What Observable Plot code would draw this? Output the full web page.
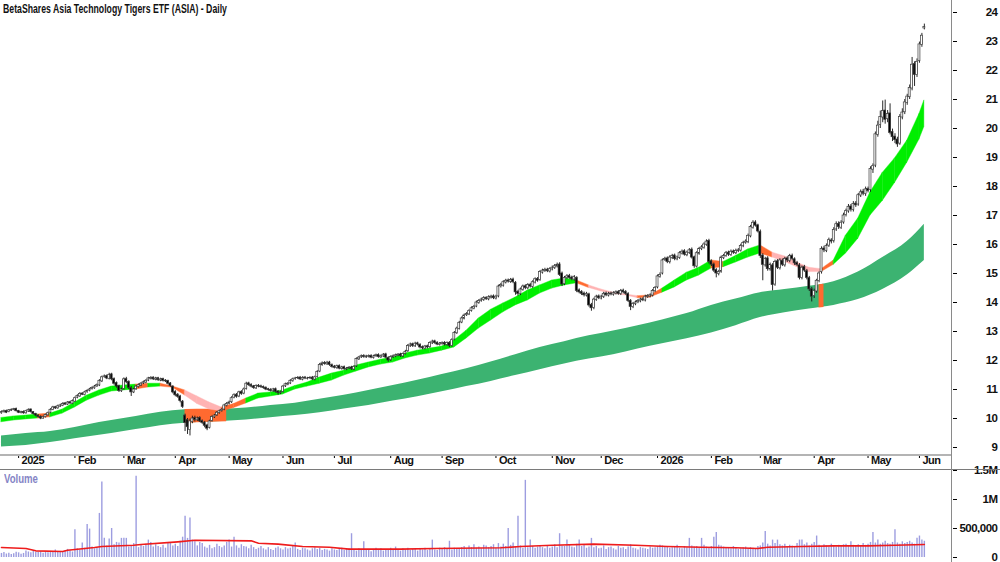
<!DOCTYPE html>
<html><head><meta charset="utf-8">
<script src="https://cdn.jsdelivr.net/npm/d3@7"></script>
<script src="https://cdn.jsdelivr.net/npm/@observablehq/plot@0.6"></script>
<style>
html,body{margin:0;padding:0;background:#fff;}
#wrap{position:relative;width:1000px;height:562px;overflow:hidden;background:#fff;}
#price,#vol{position:absolute;left:0;}
#price{top:0;} #vol{top:470px;}
.lbl{position:absolute;font-family:"Liberation Sans",Arial,sans-serif;font-weight:bold;white-space:nowrap;transform-origin:0 0;}
#title{left:3px;top:1px;font-size:13px;color:#111;transform:scaleX(0.67);}
#vlabel{left:4px;top:472px;font-size:12px;color:#8585c6;transform:scaleX(0.8);}
.line{position:absolute;}
</style></head>
<body><div id="wrap">
<div id="price"></div><div id="vol"></div>
<div class="line" style="left:0;top:454px;width:952px;height:2px;background:#b4b4b4"></div>
<div class="line" style="left:0;top:469px;width:1000px;height:1px;background:#7a7a7a"></div>
<div class="line" style="left:951px;top:0;width:1px;height:562px;background:#8a8a8a"></div>
<div id="title" class="lbl">BetaShares Asia Technology Tigers ETF (ASIA) - Daily</div>
<div id="vlabel" class="lbl">Volume</div>
</div>
<script>
// ---- daily candles (trading-day index 0 = 23 Dec 2024) ----
const open = [
10.18,10.22,10.26,10.22,10.27, 10.30,10.33,10.26,10.19,10.23, 10.18,10.24,10.31,10.22,10.16, 10.10,10.06,10.00,10.05,10.11,
10.20,10.30,10.39,10.35,10.41, 10.44,10.52,10.48,10.56,10.51, 10.58,10.72,10.76,10.86,10.81, 10.91,10.96,11.02,11.04,11.11,
11.14,11.28,11.43,11.46,11.37, 11.52,11.36,11.22,11.12,10.94, 11.02,11.36,11.26,11.06,10.90, 11.01,11.09,11.14,11.21,11.24,
11.31,11.37,11.41,11.34,11.39, 11.31,11.36,11.31,11.29,11.21, 11.10,10.92,10.82,10.76,10.58, 10.10,9.95,9.60,9.88,10.02,
9.94,10.02,9.91,9.86,9.76, 9.68,9.92,10.04,10.11,10.19, 10.26,10.31,10.44,10.51,10.56, 10.72,10.82,10.76,10.92,10.86,
11.02,11.21,11.16,11.11,11.04, 11.13,11.11,11.09,11.06,11.01, 10.99,10.94,11.01,10.93,10.87, 10.92,11.11,11.17,11.21,11.29,
11.36,11.39,11.41,11.34,11.41, 11.37,11.39,11.41,11.34,11.43, 11.62,11.84,11.91,11.87,11.93, 11.84,11.79,11.74,11.81,11.71,
11.77,11.69,11.73,11.76,11.69, 11.80,12.04,12.11,12.16,12.11, 12.13,12.16,12.09,12.15,12.19, 12.11,12.14,12.21,12.09,12.01,
12.11,12.14,12.17,12.21,12.14, 12.23,12.32,12.49,12.56,12.49, 12.59,12.54,12.46,12.41,12.49, 12.46,12.59,12.66,12.61,12.54,
12.57,12.61,12.54,12.61,12.50, 12.72,12.94,13.09,13.31,13.44, 13.56,13.59,13.71,13.79,13.86, 13.99,14.06,14.09,14.16,14.11,
14.17,14.21,14.14,14.21,14.56, 14.58,14.69,14.76,14.71,14.79, 14.68,14.37,14.29,14.44,14.56, 14.49,14.61,14.54,14.69,14.81,
14.78,15.03,15.09,15.13,15.07, 15.14,15.19,15.24,15.31,15.00, 14.63,14.84,14.92,14.86,14.79, 14.85,14.42,14.36,14.31,14.24,
14.28,13.92,13.81,14.09,14.21, 14.14,14.19,14.31,14.24,14.31, 14.27,14.31,14.36,14.29,14.41, 14.36,14.29,14.06,13.84,13.94,
14.01,14.04,14.11,14.07,14.19, 14.21,14.24,14.39,14.52,14.89, 15.00,15.47,15.52,15.39,15.54, 15.62,15.49,15.54,15.69,15.77,
15.63,15.71,15.82,15.56,15.24, 15.68,15.84,15.89,15.99,16.12, 15.42,15.31,15.12,14.98,15.06, 15.53,15.61,15.72,15.64,15.76,
15.70,15.77,15.79,15.94,16.06, 16.08,16.28,16.58,16.76,16.66, 16.44,15.62,15.28,15.52,15.14, 15.28,14.62,15.42,15.18,15.44,
15.28,15.52,15.43,15.61,15.49, 15.36,15.28,14.84,15.22,15.08, 14.84,14.46,14.22,14.38,14.74, 15.05,15.86,15.78,15.96,16.14,
16.12,16.52,16.71,16.58,16.76, 17.02,17.14,17.31,17.19,17.41, 17.38,17.69,17.82,17.74,17.91, 17.88,18.58,18.72,19.78,20.12,
20.38,20.62,20.32,20.52,19.88, 19.72,19.62,19.48,20.38,20.56, 20.88,21.08,21.38,22.22,21.84, 22.32,22.88,23.45];
const high = [
10.26,10.29,10.29,10.31,10.33, 10.35,10.36,10.28,10.25,10.26, 10.28,10.33,10.33,10.24,10.18, 10.13,10.09,10.08,10.15,10.22,
10.34,10.42,10.42,10.46,10.49, 10.54,10.55,10.58,10.59,10.64, 10.74,10.82,10.89,10.89,10.94, 10.99,11.04,11.09,11.14,11.19,
11.34,11.46,11.50,11.50,11.56, 11.56,11.40,11.26,11.15,11.05, 11.40,11.42,11.30,11.10,11.04, 11.14,11.19,11.24,11.29,11.34,
11.42,11.44,11.44,11.42,11.42, 11.39,11.39,11.34,11.32,11.24, 11.13,10.96,10.86,10.80,10.62, 10.15,10.00,9.98,10.08,10.08,
10.05,10.06,9.95,9.90,9.80, 9.94,10.09,10.14,10.24,10.29, 10.34,10.49,10.55,10.60,10.75, 10.85,10.86,10.94,10.96,11.05,
11.25,11.25,11.20,11.14,11.16, 11.17,11.15,11.12,11.09,11.04, 11.03,11.04,11.05,10.96,10.94, 11.14,11.22,11.24,11.34,11.39,
11.42,11.44,11.45,11.44,11.45, 11.42,11.44,11.45,11.46,11.65, 11.90,11.95,11.96,11.97,11.97, 11.88,11.83,11.84,11.85,11.80,
11.81,11.76,11.79,11.80,11.82, 12.09,12.14,12.19,12.20,12.18, 12.19,12.20,12.18,12.22,12.23, 12.19,12.24,12.25,12.13,12.16,
12.19,12.22,12.24,12.25,12.26, 12.35,12.55,12.60,12.60,12.63, 12.63,12.58,12.50,12.52,12.53, 12.64,12.70,12.70,12.65,12.62,
12.64,12.65,12.64,12.65,12.75, 13.00,13.15,13.35,13.50,13.60, 13.65,13.75,13.85,13.90,14.05, 14.10,14.15,14.20,14.20,14.23,
14.25,14.26,14.25,14.60,14.66, 14.75,14.80,14.81,14.83,14.84, 14.72,14.42,14.50,14.60,14.61, 14.65,14.66,14.75,14.85,14.86,
15.10,15.15,15.18,15.18,15.20, 15.26,15.31,15.36,15.37,15.05, 14.90,14.96,14.97,14.91,14.93, 14.89,14.47,14.41,14.36,14.35,
14.32,13.97,14.15,14.25,14.26, 14.25,14.35,14.36,14.35,14.36, 14.37,14.40,14.41,14.45,14.46, 14.41,14.34,14.10,14.00,14.05,
14.10,14.15,14.16,14.25,14.27, 14.30,14.45,14.55,14.95,15.02, 15.50,15.56,15.57,15.61,15.66, 15.67,15.60,15.75,15.81,15.82,
15.77,15.86,15.88,15.60,15.75, 15.90,15.96,16.06,16.16,16.18, 15.47,15.36,15.17,15.11,15.60, 15.66,15.76,15.77,15.81,15.81,
15.84,15.86,16.01,16.11,16.16, 16.36,16.66,16.82,16.82,16.70, 16.50,15.68,15.56,15.58,15.36, 15.34,15.46,15.48,15.51,15.50,
15.56,15.58,15.66,15.67,15.54, 15.42,15.34,15.26,15.28,15.14, 14.90,14.52,14.46,14.80,15.06, 15.92,15.94,16.02,16.22,16.20,
16.58,16.78,16.78,16.82,17.08, 17.22,17.38,17.38,17.48,17.48, 17.76,17.88,17.90,17.98,17.98, 18.68,18.78,19.88,20.25,20.60,
20.95,20.98,20.62,20.85,19.98, 19.82,19.70,20.48,20.68,21.00, 21.18,21.50,22.45,22.30,22.40, 22.98,23.28,23.60];
const low = [
10.15,10.19,10.17,10.20,10.24, 10.27,10.23,10.17,10.16,10.15, 10.15,10.21,10.19,10.12,10.06, 10.02,9.96,9.97,10.02,10.08,
10.17,10.27,10.31,10.32,10.38, 10.41,10.45,10.45,10.49,10.48, 10.55,10.68,10.73,10.79,10.78, 10.87,10.92,10.98,11.01,11.07,
11.10,11.24,11.39,11.34,11.33, 11.30,11.15,11.05,10.90,10.90, 10.98,11.20,11.00,10.76,10.86, 10.97,11.05,11.10,11.17,11.20,
11.27,11.33,11.31,11.30,11.28, 11.27,11.26,11.24,11.16,11.08, 10.85,10.75,10.70,10.54,10.35, 9.55,9.45,9.40,9.82,9.88,
9.90,9.86,9.80,9.68,9.58, 9.64,9.88,10.00,10.07,10.15, 10.22,10.27,10.40,10.47,10.52, 10.68,10.70,10.72,10.80,10.82,
10.98,11.11,11.06,11.01,11.00, 11.06,11.04,11.01,10.96,10.94, 10.91,10.90,10.88,10.80,10.83, 10.88,11.07,11.13,11.17,11.25,
11.32,11.35,11.31,11.30,11.34, 11.33,11.35,11.31,11.30,11.39, 11.58,11.80,11.84,11.83,11.80, 11.74,11.71,11.70,11.68,11.67,
11.66,11.65,11.69,11.66,11.65, 11.76,12.00,12.07,12.08,12.07, 12.09,12.06,12.05,12.11,12.08, 12.07,12.10,12.06,11.94,11.97,
12.07,12.10,12.13,12.11,12.10, 12.19,12.28,12.45,12.45,12.45, 12.50,12.40,12.37,12.37,12.40, 12.42,12.55,12.56,12.51,12.50,
12.53,12.50,12.50,12.45,12.46, 12.68,12.90,13.05,13.27,13.40, 13.52,13.55,13.67,13.75,13.82, 13.94,14.01,14.04,14.07,14.06,
14.12,14.10,14.09,14.16,14.50, 14.53,14.64,14.67,14.66,14.65, 14.25,14.22,14.24,14.39,14.44, 14.44,14.50,14.49,14.64,14.70,
14.73,14.98,15.04,15.03,15.02, 15.09,15.14,15.19,14.90,14.55, 14.58,14.79,14.80,14.75,14.74, 14.34,14.30,14.24,14.19,14.19,
13.84,13.70,13.75,14.04,14.10, 14.09,14.14,14.20,14.19,14.23, 14.22,14.26,14.25,14.24,14.30, 14.25,14.00,13.72,13.79,13.89,
13.96,13.99,14.03,14.02,14.14, 14.16,14.19,14.34,14.47,14.84, 14.95,15.42,15.34,15.33,15.48, 15.44,15.44,15.49,15.64,15.60,
15.58,15.66,15.50,15.18,15.19, 15.63,15.79,15.84,15.94,15.33, 15.24,15.04,14.85,14.92,15.01, 15.48,15.56,15.59,15.59,15.66,
15.65,15.72,15.74,15.89,16.01, 16.03,16.23,16.53,16.60,16.40, 15.52,14.75,15.22,15.08,15.08, 14.40,14.56,15.14,15.12,15.24,
15.22,15.38,15.37,15.44,15.28, 15.24,14.78,14.78,15.04,14.78, 14.38,14.02,14.14,14.32,14.68, 14.98,15.72,15.72,15.90,16.02,
16.05,16.45,16.52,16.52,16.70, 16.95,17.08,17.12,17.12,17.28, 17.32,17.62,17.68,17.66,17.78, 17.80,18.45,18.65,19.70,20.00,
20.20,20.15,20.20,19.78,19.55, 19.48,19.35,19.42,20.30,20.48, 20.80,21.00,21.30,21.45,21.76, 22.25,22.80,23.40];
const close = [
10.22,10.25,10.20,10.28,10.30, 10.32,10.25,10.20,10.22,10.18, 10.25,10.30,10.22,10.15,10.10, 10.05,10.00,10.05,10.12,10.18,
10.30,10.38,10.35,10.42,10.45, 10.50,10.48,10.55,10.52,10.60, 10.70,10.78,10.85,10.82,10.90, 10.95,11.00,11.05,11.10,11.15,
11.30,11.42,11.45,11.38,11.50, 11.35,11.20,11.10,10.95,11.00, 11.35,11.25,11.05,10.90,11.00, 11.10,11.15,11.20,11.25,11.30,
11.38,11.40,11.35,11.38,11.32, 11.35,11.30,11.28,11.20,11.12, 10.90,10.80,10.75,10.60,10.40, 9.85,9.70,9.90,10.00,9.95,
10.00,9.90,9.85,9.75,9.65, 9.90,10.05,10.10,10.20,10.25, 10.30,10.45,10.50,10.55,10.70, 10.80,10.75,10.90,10.85,11.00,
11.20,11.15,11.10,11.05,11.12, 11.10,11.08,11.05,11.00,10.98, 10.95,11.00,10.92,10.88,10.90, 11.10,11.18,11.20,11.30,11.35,
11.38,11.40,11.35,11.40,11.38, 11.38,11.40,11.35,11.42,11.60, 11.85,11.90,11.88,11.92,11.85, 11.78,11.75,11.80,11.72,11.76,
11.70,11.72,11.75,11.70,11.78, 12.05,12.10,12.15,12.12,12.14, 12.15,12.10,12.14,12.18,12.12, 12.15,12.20,12.10,12.00,12.12,
12.15,12.18,12.20,12.15,12.22, 12.30,12.50,12.55,12.50,12.58, 12.55,12.45,12.42,12.48,12.45, 12.60,12.65,12.60,12.55,12.58,
12.60,12.55,12.60,12.50,12.70, 12.95,13.10,13.30,13.45,13.55, 13.60,13.70,13.80,13.85,14.00, 14.05,14.10,14.15,14.12,14.18,
14.20,14.15,14.20,14.55,14.60, 14.70,14.75,14.72,14.78,14.70, 14.35,14.30,14.45,14.55,14.50, 14.60,14.55,14.70,14.80,14.75,
15.05,15.10,15.12,15.08,15.15, 15.20,15.25,15.30,14.95,14.62, 14.85,14.90,14.85,14.80,14.88, 14.40,14.35,14.30,14.25,14.30,
13.90,13.80,14.10,14.20,14.15, 14.20,14.30,14.25,14.30,14.28, 14.32,14.35,14.30,14.40,14.35, 14.30,14.05,13.85,13.95,14.00,
14.05,14.10,14.08,14.20,14.22, 14.25,14.40,14.50,14.90,14.95, 15.45,15.50,15.40,15.55,15.60, 15.50,15.55,15.70,15.75,15.65,
15.72,15.80,15.55,15.25,15.70, 15.85,15.90,16.00,16.10,15.40, 15.30,15.10,15.00,15.05,15.55, 15.60,15.70,15.65,15.75,15.72,
15.78,15.80,15.95,16.05,16.10, 16.30,16.60,16.75,16.65,16.45, 15.60,15.30,15.50,15.15,15.30, 14.60,15.40,15.20,15.45,15.30,
15.50,15.45,15.60,15.50,15.35, 15.30,14.85,15.20,15.10,14.85, 14.45,14.20,14.40,14.75,15.00, 15.85,15.80,15.95,16.15,16.10,
16.50,16.70,16.60,16.75,17.00, 17.15,17.30,17.20,17.40,17.35, 17.70,17.80,17.75,17.90,17.85, 18.60,18.70,19.80,20.10,20.40,
20.60,20.30,20.50,19.85,19.70, 19.60,19.45,20.40,20.55,20.90, 21.10,21.40,22.20,21.85,22.30, 22.90,23.20,23.50];
// daily volume, thousands of units
const volumeK = [
70,85,60,75,50, 65,90,80,55,70, 110,95,80,120,90, 85,100,75,95,80,
105,90,130,85,100, 95,120,140,110,95, 480,150,130,250,160, 570,490,180,150,170,
760,1300,330,200,320, 500,220,260,250,330, 330,330,180,200,240, 1400,170,210,190,230,
300,260,180,220,190, 170,210,160,240,250, 200,230,190,280,350, 710,330,680,300,270,
200,260,240,180,160, 210,150,170,230,190, 170,200,260,300,180, 350,200,160,220,190,
180,150,210,170,140, 160,190,150,130,170, 140,120,160,180,150, 130,170,145,160,190,
250,140,120,160,150, 130,110,150,170,140, 160,120,140,130,110, 150,130,120,140,160,
120,140,150,410,130, 110,150,140,270,120, 130,100,140,160,120, 150,110,130,140,160,
120,180,140,110,150, 130,160,120,140,150, 110,140,130,160,120, 150,300,130,120,160,
140,170,150,280,130, 160,140,150,170,190, 150,200,170,220,160, 180,150,210,200,170,
190,220,160,240,180, 230,190,500,210,250, 180,710,200,160,1330, 170,300,190,160,180,
200,170,150,190,160, 180,220,170,410,200, 190,300,210,180,170, 230,300,190,220,160,
180,330,170,190,150, 160,200,140,170,180, 150,130,190,160,170, 140,180,220,160,150,
130,170,160,150,140, 180,160,170,190,210, 200,180,190,160,170, 180,210,160,150,190,
170,330,200,180,190, 160,330,210,180,170, 190,350,430,210,200, 180,160,170,150,190,
160,140,150,170,180, 150,170,160,140,190, 200,250,450,230,200, 300,240,300,220,200,
230,190,210,200,180, 240,300,300,220,250, 200,230,260,370,210, 190,220,200,180,230,
200,180,210,190,220, 230,200,270,210,190, 220,200,240,210,230, 260,430,250,300,230,
250,280,240,230,260, 480,250,230,270,240, 260,280,250,230,330, 370,300,280];
// volume moving average (thousands), read at these day indices
const volMaIdx = [0,10,14,25,27,38,41,54,57,72,79,102,105,113,123,134,142,163,177,204,212,225,242,259,272,286,300,309,313,327,340,354,365,377];
const volMaK   = [172,155,115,103,126,172,190,212,224,270,298,287,247,230,190,178,144,144,155,167,190,212,230,212,190,178,167,155,178,190,200,200,212,224];
// short-term MA ribbon edges, sampled every 5 days
const shortIdx = [0,5,10,15,20,25,30,35,40,45,50,55,60,65,70,75,80,85,90,95,100,105,110,115,120,125,130,135,140,145,150,155,160,165,170,175,180,185,190,195,200,205,210,215,220,225,230,235,240,245,250,255,260,265,270,275,280,285,290,295,300,305,310,315,320,325,330,335,340,345,350,355,360,365,370,375,377];
const shortHi = [10.02,10.07,10.10,10.14,10.17,10.31,10.55,10.79,10.97,11.10,11.14,11.17,11.20,11.20,11.10,10.97,10.76,10.55,10.38,10.50,10.69,10.86,10.90,10.97,11.12,11.24,11.41,11.55,11.65,11.83,11.93,12.03,12.10,12.24,12.34,12.41,12.48,12.69,13.03,13.45,13.75,13.97,14.17,14.41,14.59,14.76,14.83,14.76,14.59,14.45,14.34,14.28,14.22,14.24,14.48,14.76,15.03,15.20,15.45,15.40,15.60,15.83,15.97,15.72,15.59,15.38,15.20,15.15,15.45,16.31,16.90,17.80,18.47,18.97,19.58,20.50,20.97];
const shortLo = [9.87,9.93,9.97,10.00,10.04,10.17,10.38,10.62,10.79,10.93,10.97,11.00,11.07,11.10,11.06,10.79,10.50,10.31,10.24,10.36,10.52,10.69,10.76,10.83,11.00,11.10,11.20,11.31,11.48,11.62,11.76,11.86,11.93,12.07,12.17,12.24,12.34,12.45,12.76,13.10,13.38,13.66,13.90,14.07,14.31,14.48,14.59,14.66,14.50,14.38,14.30,14.24,14.15,14.17,14.34,14.52,14.76,14.93,15.17,15.22,15.38,15.55,15.69,15.55,15.40,15.22,15.05,15.05,15.30,15.69,16.20,17.00,17.50,18.12,18.82,19.62,20.05];
// ribbon state of each segment: g = rising, p = falling, o = crossing
const shortState = ["g","g","g","o","g","g","g","g","g","g","g","o","g","o","o","p","p","p","o","o","g","g","g","g","g","g","g","g","g","g","g","g","g","g","g","g","g","g","g","g","g","g","g","g","g","g","g","o","p","p","p","p","o","o","g","g","g","g","o","g","g","g","o","p","p","p","p","o","g","g","g","g","g","g","g","g"];
// long-term MA ribbon edges, sampled every 10 days
const longIdx = [0,10,20,30,40,50,60,70,80,90,100,110,120,130,140,150,160,170,180,190,200,210,220,230,240,250,260,270,280,290,300,310,320,330,340,350,360,370,377];
const longHi = [9.40,9.48,9.55,9.69,9.86,10.00,10.15,10.27,10.31,10.32,10.36,10.45,10.53,10.66,10.80,10.97,11.14,11.32,11.52,11.72,11.95,12.20,12.45,12.65,12.85,13.02,13.20,13.40,13.62,13.90,14.12,14.34,14.45,14.56,14.72,15.05,15.55,16.10,16.70];
const longLo = [9.02,9.07,9.17,9.30,9.42,9.55,9.68,9.80,9.86,9.90,9.95,10.03,10.10,10.20,10.33,10.45,10.60,10.75,10.92,11.10,11.28,11.48,11.68,11.88,12.05,12.20,12.40,12.58,12.75,12.95,13.20,13.48,13.65,13.78,13.90,14.10,14.45,14.95,15.45];
// long ribbon overlaid in orange where price broke into it
const warnIdx = [[75,80,85,92],[334,336]];
const warnHi = [[10.31,10.32,10.32,10.33],[14.61,14.63]];
const warnLo = [[9.83,9.85,9.87,9.89],[13.81,13.83]];
// axes
const monthIdx = [7,30,50,71,93,115,136,159,180,202,225,245,268,290,310,332,354,375];
const monthLabels = ["2025","Feb","Mar","Apr","May","Jun","Jul","Aug","Sep","Oct","Nov","Dec","2026","Feb","Mar","Apr","May","Jun"];
const priceTicks = [9,10,11,12,13,14,15,16,17,18,19,20,21,22,23,24];
const volTicksK = [0,500,1000,1500];
const volTickLabels = ["0","500,000","1M","1.5M"];

const FONT = '"Liberation Sans",Arial,sans-serif';
const COLORS = {g:"#00ee00", p:"#ffb3b3", o:"#ff6a30"};

const candles = close.map((c,i)=>({i, o:open[i], h:high[i], l:low[i], c}));
const longRows = longIdx.map((i,k)=>({i, hi:longHi[k], lo:longLo[k]}));
const warnRows = warnIdx.flatMap((arr,s)=>arr.map((i,k)=>({s, i, hi:warnHi[s][k], lo:warnLo[s][k]})));
const shortRows = [];
for (let k=0;k<shortIdx.length-1;k++){
  const col = COLORS[shortState[k]];
  shortRows.push({seg:k, i:shortIdx[k], hi:shortHi[k], lo:shortLo[k], col});
  shortRows.push({seg:k, i:shortIdx[k+1], hi:shortHi[k+1], lo:shortLo[k+1], col});
}
const xDomain = [-0.4, 388.5];

const price = Plot.plot({
  width:1000, height:470, marginLeft:0, marginRight:48, marginTop:0, marginBottom:16,
  style:{overflow:"visible", background:"transparent"},
  color:{type:"identity"},
  x:{domain:xDomain, axis:"bottom", ticks:monthIdx, tickSize:4, tickFormat:()=>"", label:null},
  y:{domain:[8.759,24.414], axis:"right", ticks:priceTicks, tickSize:4, tickFormat:()=>"", label:null},
  marks:[
    Plot.areaY(longRows,{x:"i", y1:"lo", y2:"hi", fill:"#3cb371", curve:"monotone-x"}),
    Plot.areaY(warnRows,{x:"i", y1:"lo", y2:"hi", z:"s", fill:"#ff6a30"}),
    Plot.areaY(shortRows,{x:"i", y1:"lo", y2:"hi", z:"seg", fill:"col", stroke:"col", strokeWidth:0.4}),
    Plot.ruleX(candles,{x:"i", y1:"l", y2:"h", stroke:"#111", strokeWidth:0.9}),
    Plot.rect(candles,{x1:d=>d.i-0.4, x2:d=>d.i+0.4, y1:"o", y2:"c", fill:d=>d.c>=d.o?"#ffffff":"#000000", stroke:"#3a3a3a", strokeWidth:0.7}),
    Plot.text(monthIdx,{x:d=>d, text:(d,k)=>monthLabels[k], frameAnchor:"bottom", dy:9, dx:3, textAnchor:"start", fontFamily:FONT, fontWeight:"bold", fontSize:11, fill:"#111"}),
    Plot.text(priceTicks,{y:d=>d, text:d=>String(d), frameAnchor:"right", dx:45, textAnchor:"end", fontFamily:FONT, fontWeight:"bold", fontSize:11.5, fill:"#111"})
  ]
});
d3.select(price).selectAll("text").attr("letter-spacing","-0.5");
document.getElementById("price").appendChild(price);

const volRows = volumeK.map((v,i)=>({i, v}));
const maRows = volMaIdx.map((i,k)=>({i, v:volMaK[k]}));
const vol = Plot.plot({
  width:1000, height:92, marginLeft:0, marginRight:48, marginTop:0, marginBottom:5,
  style:{overflow:"visible", background:"transparent"},
  x:{domain:xDomain, axis:null},
  y:{domain:[0,1500], axis:"right", ticks:volTicksK, tickSize:4, tickFormat:()=>"", label:null},
  marks:[
    Plot.ruleX(volRows,{x:"i", y1:0, y2:"v", stroke:"#9d9de0", strokeWidth:1.4}),
    Plot.line(maRows,{x:"i", y:"v", stroke:"#ee1c1c", strokeWidth:1.6}),
    Plot.text(volTicksK,{y:d=>d, text:(d,k)=>volTickLabels[k], frameAnchor:"right", dx:45, dy:0, textAnchor:"end", fontFamily:FONT, fontWeight:"bold", fontSize:11.5, fill:"#111"})
  ]
});
d3.select(vol).selectAll("text").attr("letter-spacing","-0.5");
document.getElementById("vol").appendChild(vol);
</script>
</body></html>
